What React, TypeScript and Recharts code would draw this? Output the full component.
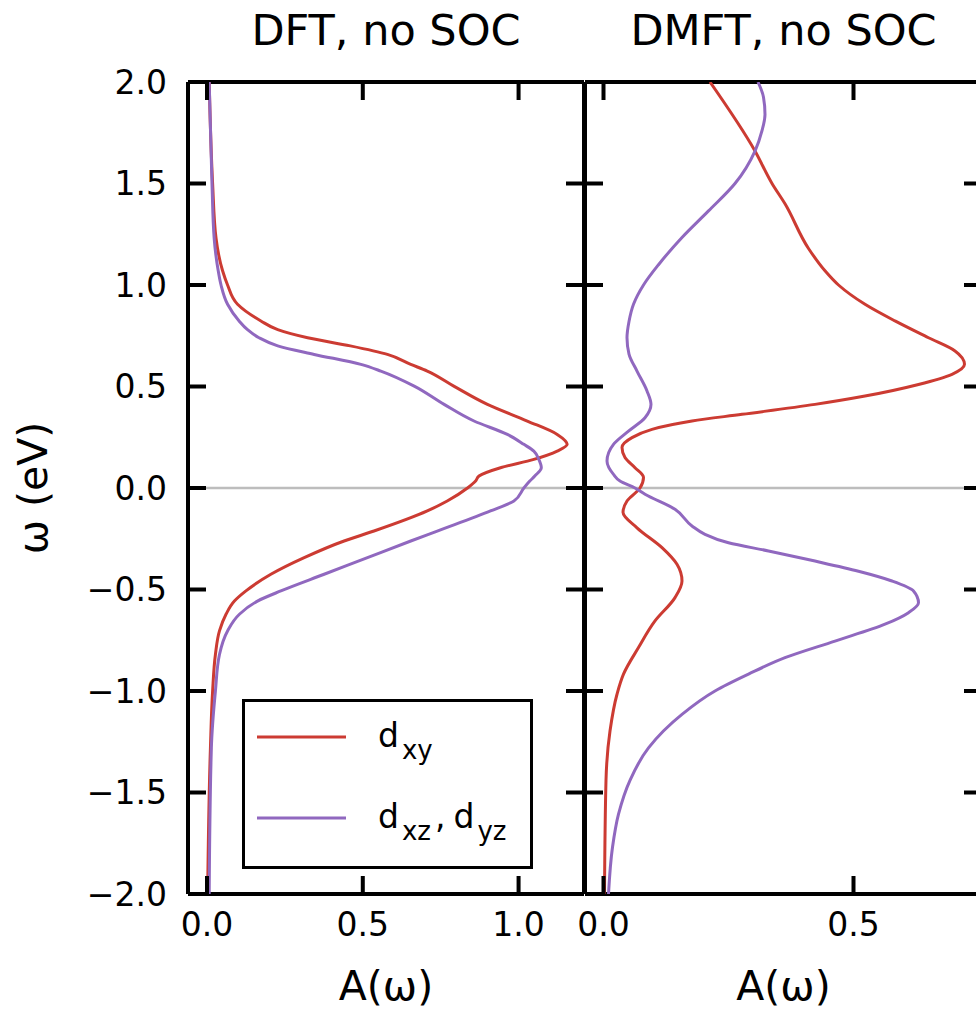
import React from 'react'
import { ScatterChart, Scatter, XAxis, YAxis, ReferenceLine, Legend } from 'recharts'

// omega grid (eV) and tick values
const OMEGA_TICKS = [-2, -1.5, -1, -0.5, 0, 0.5, 1, 1.5, 2]
const OMEGA_DOMAIN: [number, number] = [-2, 2]
const DFT_A_TICKS = [0, 0.5, 1]
const DMFT_A_TICKS = [0, 0.5]

// DFT, no SOC — both orbitals read on the same omega points
const dftW = [2.0, 1.5, 1.23, 1.07, 1.0, 0.905, 0.823, 0.78, 0.74, 0.7, 0.658, 0.609, 0.576, 0.502, 0.412, 0.33, 0.264, 0.215, 0.182, 0.141, 0.1, 0.059, 0.034, 0.0, -0.064, -0.113, -0.212, -0.261, -0.343, -0.425, -0.507, -0.557, -0.622, -0.704, -0.82, -1.0, -1.28, -2.0]
const dftDxy = [0.007, 0.018, 0.029, 0.05, 0.066, 0.098, 0.173, 0.227, 0.323, 0.46, 0.579, 0.654, 0.707, 0.792, 0.9, 1.028, 1.124, 1.156, 1.124, 1.049, 0.942, 0.873, 0.862, 0.836, 0.771, 0.707, 0.536, 0.44, 0.312, 0.205, 0.125, 0.088, 0.061, 0.04, 0.027, 0.018, 0.011, 0.002]
const dftDxz = [0.007, 0.016, 0.023, 0.036, 0.045, 0.066, 0.103, 0.13, 0.167, 0.227, 0.344, 0.494, 0.558, 0.665, 0.761, 0.857, 0.964, 1.017, 1.049, 1.065, 1.073, 1.052, 1.036, 1.017, 0.985, 0.91, 0.739, 0.654, 0.515, 0.376, 0.237, 0.162, 0.104, 0.066, 0.04, 0.027, 0.014, 0.007]

// DMFT, no SOC
const dmftDxyW = [2.0, 1.66, 1.5, 1.4, 1.18, 1.07, 1.0, 0.905, 0.823, 0.74, 0.675, 0.609, 0.56, 0.51, 0.453, 0.412, 0.363, 0.33, 0.289, 0.248, 0.2, 0.15, 0.1, 0.052, 0.0, -0.064, -0.12, -0.196, -0.294, -0.376, -0.458, -0.54, -0.655, -0.786, -0.917, -1.016, -1.197, -1.44, -2.0]
const dmftDxy = [0.213, 0.303, 0.337, 0.363, 0.41, 0.443, 0.47, 0.523, 0.583, 0.65, 0.703, 0.722, 0.697, 0.63, 0.523, 0.423, 0.277, 0.177, 0.097, 0.057, 0.037, 0.043, 0.063, 0.08, 0.073, 0.047, 0.039, 0.067, 0.117, 0.147, 0.157, 0.143, 0.103, 0.07, 0.04, 0.027, 0.013, 0.005, 0.002]
const dmftDxzW = [2.0, 1.925, 1.84, 1.76, 1.66, 1.5, 1.365, 1.234, 1.1, 1.0, 0.905, 0.82, 0.74, 0.66, 0.576, 0.478, 0.412, 0.346, 0.28, 0.215, 0.133, 0.067, 0.034, 0.0, -0.031, -0.105, -0.187, -0.228, -0.27, -0.31, -0.36, -0.41, -0.458, -0.507, -0.565, -0.614, -0.671, -0.754, -0.836, -0.917, -1.0, -1.115, -1.28, -1.44, -1.607, -1.77, -2.0]
const dmftDxz = [0.309, 0.32, 0.323, 0.317, 0.303, 0.263, 0.21, 0.157, 0.11, 0.08, 0.06, 0.051, 0.047, 0.051, 0.067, 0.087, 0.095, 0.083, 0.05, 0.02, 0.007, 0.02, 0.033, 0.063, 0.083, 0.143, 0.177, 0.203, 0.25, 0.33, 0.423, 0.51, 0.577, 0.62, 0.63, 0.61, 0.563, 0.463, 0.363, 0.29, 0.223, 0.157, 0.09, 0.053, 0.03, 0.018, 0.01]

const RED = '#cc3b32'
const PURPLE = '#9068bf'
const FONT = '"DejaVu Sans", sans-serif'
const SPINE = 4
const TICK_LEN = 18
const TICK_FONT = 33
const LABEL_FONT = 41
const TITLE_FONT = 43
const CHART_H = 1009
const PLOT_TOP = 82
const PLOT_BOTTOM = 894
const AXIS_LINE = { stroke: '#000', strokeWidth: SPINE }
const TICK_TEXT = { fontSize: TICK_FONT, fill: '#000' }

const toPoints = (w: number[], a: number[]) => w.map((v, i) => ({ w: v, a: a[i] }))
const fmt = (v: number) => v.toFixed(1).replace('-', '\u2212')
const noMarker = () => null

const SERIES_STYLE = [
    { color: RED, parts: [['d', 'xy']] },
    { color: PURPLE, parts: [['d', 'xz'], ['d', 'yz']] },
]

function OrbitalLegend() {
    return (
        <div style={{ width: 291, height: 170, boxSizing: 'border-box', border: '3px solid #000', background: '#fff' }}>
            <svg width={285} height={164} style={{ display: 'block', fontFamily: FONT }}>
                {SERIES_STYLE.map((s, i) => {
                    const ly = 35 + i * 81
                    return (
                        <g key={i}>
                            <line x1={12} x2={101} y1={ly} y2={ly} stroke={s.color} strokeWidth={3} />
                            <text x={133} y={ly + 10} fontSize={33} fill="#000">
                                {s.parts.map((pt, j) => (
                                    <React.Fragment key={j}>
                                        {j > 0 && <tspan dy={-12} dx={4}>,</tspan>}
                                        <tspan dx={j > 0 ? 8 : 0}>{pt[0]}</tspan>
                                        <tspan fontSize={26} dy={12} dx={3}>{pt[1]}</tspan>
                                    </React.Fragment>
                                ))}
                            </text>
                        </g>
                    )
                })}
            </svg>
        </div>
    )
}

interface PanelConfig {
    left: number
    width: number
    plotLeft: number
    plotRight: number
    title: string
    aDomain: [number, number]
    aTicks: number[]
    series: { w: number[]; a: number[]; color: string }[]
    withOmegaLabels: boolean
    withLegend: boolean
}

const PANELS: PanelConfig[] = [
    {
        left: 0,
        width: 600,
        plotLeft: 188,
        plotRight: 584,
        title: 'DFT, no SOC',
        aDomain: [-0.061, 1.21],
        aTicks: DFT_A_TICKS,
        series: [
            { w: dftW, a: dftDxy, color: RED },
            { w: dftW, a: dftDxz, color: PURPLE },
        ],
        withOmegaLabels: true,
        withLegend: true,
    },
    {
        left: 570,
        width: 430,
        plotLeft: 15,
        plotRight: 412,
        title: 'DMFT, no SOC',
        aDomain: [-0.037, 0.757],
        aTicks: DMFT_A_TICKS,
        series: [
            { w: dmftDxyW, a: dmftDxy, color: RED },
            { w: dmftDxzW, a: dmftDxz, color: PURPLE },
        ],
        withOmegaLabels: false,
        withLegend: false,
    },
]

function Panel({ left, width, plotLeft, plotRight, title, aDomain, aTicks, series, withOmegaLabels, withLegend }: PanelConfig) {
    // all four axes are 1px thin; the frame is placed with the margins
    const margin = {
        top: PLOT_TOP - 1,
        bottom: CHART_H - PLOT_BOTTOM - 1,
        left: plotLeft - 1,
        right: width - plotRight - 1,
    }
    const midX = (plotLeft + plotRight) / 2
    const midY = (PLOT_TOP + PLOT_BOTTOM) / 2

    return (
        <div style={{ position: 'absolute', left, top: 0, width, height: CHART_H }}>
            <ScatterChart width={width} height={CHART_H} margin={margin}>
                <XAxis
                    xAxisId="b"
                    type="number"
                    dataKey="a"
                    domain={aDomain}
                    ticks={aTicks}
                    allowDataOverflow
                    interval={0}
                    height={1}
                    tickSize={0}
                    tickMargin={19}
                    tick={TICK_TEXT}
                    tickFormatter={fmt}
                    tickLine={false}
                    axisLine={AXIS_LINE}
                />
                <XAxis
                    xAxisId="t"
                    orientation="top"
                    type="number"
                    domain={aDomain}
                    ticks={aTicks}
                    allowDataOverflow
                    interval={0}
                    height={1}
                    tickSize={0}
                    tick={false}
                    tickLine={false}
                    axisLine={AXIS_LINE}
                />
                <YAxis
                    yAxisId="l"
                    type="number"
                    dataKey="w"
                    domain={OMEGA_DOMAIN}
                    ticks={OMEGA_TICKS}
                    allowDataOverflow
                    interval={0}
                    width={1}
                    tickSize={0}
                    tickMargin={21}
                    tick={withOmegaLabels ? TICK_TEXT : false}
                    tickFormatter={fmt}
                    tickLine={false}
                    axisLine={AXIS_LINE}
                />
                <YAxis
                    yAxisId="r"
                    orientation="right"
                    type="number"
                    domain={OMEGA_DOMAIN}
                    ticks={OMEGA_TICKS}
                    allowDataOverflow
                    interval={0}
                    width={1}
                    tickSize={0}
                    tick={false}
                    tickLine={false}
                    axisLine={AXIS_LINE}
                />
                <ReferenceLine xAxisId="b" yAxisId="l" y={0} stroke="#bdbdbd" strokeWidth={2.5} />
                {series.map((s, i) => (
                    <Scatter
                        key={i}
                        xAxisId="b"
                        yAxisId="l"
                        data={toPoints(s.w, s.a)}
                        fill={s.color}
                        line={{ stroke: s.color, strokeWidth: 3, strokeLinejoin: 'round' }}
                        lineType="joint"
                        lineJointType="monotoneY"
                        shape={noMarker}
                        isAnimationActive={false}
                    />
                ))}
                {withLegend && (
                    <Legend
                        layout="vertical"
                        align="center"
                        verticalAlign="middle"
                        wrapperStyle={{ left: 242 - left, top: 699, width: 291, height: 170 }}
                        content={<OrbitalLegend />}
                    />
                )}
            </ScatterChart>
            {/* panel title and axis titles */}
            <svg
                width={width}
                height={CHART_H}
                style={{ position: 'absolute', left: 0, top: 0, pointerEvents: 'none', fontFamily: FONT }}
            >
                <text x={midX} y={45} textAnchor="middle" fontSize={TITLE_FONT} fill="#000">{title}</text>
                <text x={midX} y={1000} textAnchor="middle" fontSize={LABEL_FONT} fill="#000">A(ω)</text>
                {withOmegaLabels && (
                    <text
                        x={47}
                        y={midY}
                        transform={`rotate(-90, 47, ${midY})`}
                        textAnchor="middle"
                        fontSize={LABEL_FONT}
                        fill="#000"
                    >
                        ω (eV)
                    </text>
                )}
            </svg>
        </div>
    )
}

// inward tick marks for both frames, laid over everything
function FrameTicks() {
    return (
        <svg
            width={976}
            height={CHART_H}
            style={{ position: 'absolute', left: 0, top: 0, pointerEvents: 'none', zIndex: 10 }}
        >
            {PANELS.map((p, k) => {
                const x0 = p.left + p.plotLeft
                const x1 = p.left + p.plotRight
                const tx = (v: number) => x0 + ((v - p.aDomain[0]) / (p.aDomain[1] - p.aDomain[0])) * (x1 - x0)
                const ty = (v: number) =>
                    PLOT_BOTTOM - ((v - OMEGA_DOMAIN[0]) / (OMEGA_DOMAIN[1] - OMEGA_DOMAIN[0])) * (PLOT_BOTTOM - PLOT_TOP)
                return (
                    <g key={k} fill="#000">
                        {OMEGA_TICKS.map(t => (
                            <React.Fragment key={`w${t}`}>
                                <rect x={x0} y={ty(t) - SPINE / 2} width={TICK_LEN} height={SPINE} />
                                <rect x={x1 - TICK_LEN} y={ty(t) - SPINE / 2} width={TICK_LEN} height={SPINE} />
                            </React.Fragment>
                        ))}
                        {p.aTicks.map(t => (
                            <React.Fragment key={`a${t}`}>
                                <rect x={tx(t) - SPINE / 2} y={PLOT_BOTTOM - TICK_LEN} width={SPINE} height={TICK_LEN} />
                                <rect x={tx(t) - SPINE / 2} y={PLOT_TOP} width={SPINE} height={TICK_LEN} />
                            </React.Fragment>
                        ))}
                    </g>
                )
            })}
        </svg>
    )
}

export default function App() {
    return (
        <div
            style={{
                position: 'absolute',
                left: 0,
                top: 0,
                width: 976,
                height: 1009,
                overflow: 'hidden',
                background: '#fff',
                fontFamily: FONT,
            }}
        >
            {PANELS.map((p, i) => (
                <Panel key={i} {...p} />
            ))}
            <FrameTicks />
        </div>
    )
}
